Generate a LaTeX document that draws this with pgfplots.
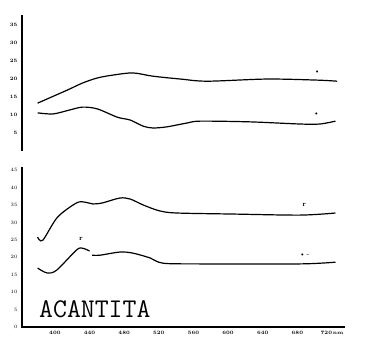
\documentclass[border=0pt]{standalone}
\usepackage{pgfplots}
\pgfplotsset{compat=1.18}
\begin{document}
\begin{tikzpicture}[x=1pt,y=1pt]
\useasboundingbox (0,0) rectangle (365,-350);
\pgfplotsset{every axis/.append style={scale only axis, xmin=362, xmax=735,
  tick label style={font=\tiny\bfseries}, major tick length=2pt,
  every tick/.style={black, line width=0.8pt}}}
% upper panel
\begin{axis}[at={(22pt,-151pt)}, anchor=south west, width=323pt, height=136pt,
  ymin=0, ymax=37.8, axis x line=none, axis y line=left,
  y axis line style={-, line width=1.5pt},
  ytick={5,10,15,20,25,30,35}, yticklabels={5,10,15,20,25,30,35}]
\addplot[black, line width=1.2pt, smooth, tension=0.5] coordinates {
(380,13.3) (414,16.9) (432,18.9) (449,20.3) (467,21.1) (490,21.7) (513,20.8)
(545,20.0) (576,19.4) (645,20.0) (703,19.7) (726,19.4)};
\addplot[black, line width=1.2pt, smooth, tension=0.5] coordinates {
(380,10.6) (398,10.3) (417,11.4) (432,12.2) (449,11.7) (472,9.4) (487,8.6)
(502,6.9) (513,6.4) (529,6.7) (553,7.8) (568,8.3) (625,8.1) (683,7.5) (706,7.5) (724,8.3)};
\node[font=\scriptsize] at (axis cs:703,21.9) {\textbullet};
\node[font=\scriptsize] at (axis cs:702,10.3) {\textbullet};
\end{axis}
% lower panel
\begin{axis}[at={(22pt,-327pt)}, anchor=south west, width=323pt, height=160pt,
  ymin=0, ymax=45.9, axis x line=bottom, axis y line=left,
  axis line style={-, line width=1.5pt},
  ytick={0,5,...,45},
  xtick={400,440,480,520,560,600,640,680,720},
  xticklabels={400,440,480,520,560,600,640,680,{720\,nm}}]
\addplot[black, line width=1.2pt, smooth, tension=0.5] coordinates {
(380,25.8) (386,24.9) (403,31.5) (425,35.6) (435,35.8) (444,35.3) (455,35.6)
(475,37.0) (487,36.7) (502,35.0) (521,33.3) (541,32.7) (606,32.4) (683,32.1) (724,32.7)};
\addplot[black, line width=1.2pt, smooth, tension=0.5] coordinates {
(380,16.9) (391,15.5) (402,16.3) (425,22.1) (432,22.6) (440,21.8)};
\addplot[black, line width=1.2pt, smooth, tension=0.5] coordinates {
(443,20.6) (452,20.6) (475,21.5) (490,21.2) (510,19.8) (525,18.3) (568,18.1) (683,18.1) (724,18.6)};
\node[font=\scriptsize\bfseries] at (axis cs:688,35.0) {r};
\node[font=\scriptsize\bfseries] at (axis cs:430,25.2) {r};
\node[font=\scriptsize] at (axis cs:688,20.6) {\textbullet\,-};
\end{axis}
\node[anchor=base west, font=\ttfamily\fontsize{27}{27}\selectfont, inner sep=0pt] at (39,-318) {ACANTITA};
\end{tikzpicture}
\end{document}
